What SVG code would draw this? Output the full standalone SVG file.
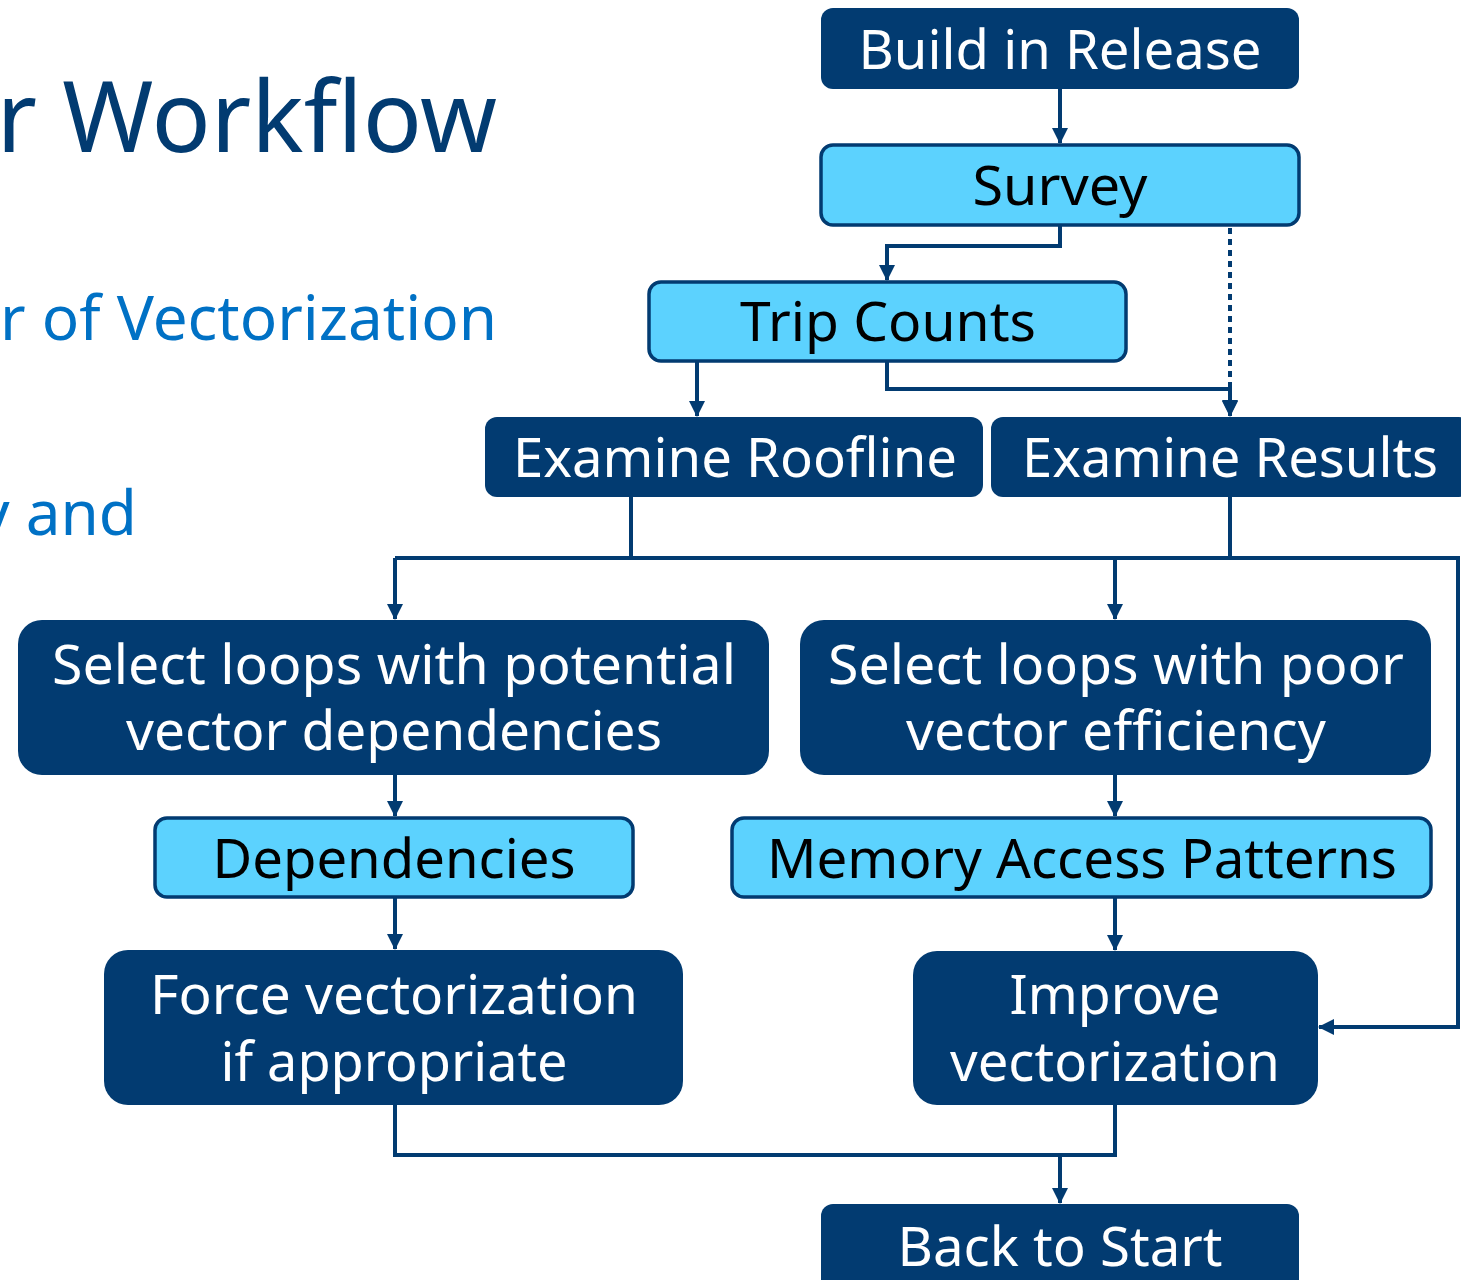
<svg xmlns="http://www.w3.org/2000/svg" width="1461" height="1280" viewBox="0 0 1461 1280">
<defs>
<style>
.dk{fill:#023b71}
.lt{fill:#5cd2fe;stroke:#023b71;stroke-width:3.5}
.t{font-family:"Noto Sans","Open Sans","Liberation Sans",sans-serif;font-size:55px;text-anchor:middle}
.w{fill:#ffffff}
.b{fill:#000000}
.c{fill:none;stroke:#023b71;stroke-width:4}
.h{font-family:"Noto Sans","Open Sans","Liberation Sans",sans-serif}
</style>
<marker id="ar" viewBox="0 0 16 16" refX="15" refY="8" markerWidth="16" markerHeight="16" markerUnits="userSpaceOnUse" orient="auto">
<path d="M0,0 L16,8 L0,16 Z" fill="#023b71"/>
</marker>
</defs>
<rect width="1461" height="1280" fill="#ffffff"/>
<g id="title">
<text class="h" x="497" y="152" font-size="98" fill="#023b71" text-anchor="end">r Workflow</text>
<text class="h" x="497" y="340" font-size="62" fill="#0071c5" text-anchor="end">r of Vectorization</text>
<text class="h" x="137" y="535" font-size="62" fill="#0071c5" text-anchor="end">y and</text>
</g>
<g id="connectors">
<path class="c" d="M1060,89 V143" marker-end="url(#ar)"/>
<path class="c" d="M1060,226 V246 H887 V280" marker-end="url(#ar)"/>
<path class="c" d="M1230,228 V415" stroke-dasharray="6,5" marker-end="url(#ar)"/>
<path class="c" d="M697,362 V416" marker-end="url(#ar)"/>
<path class="c" d="M887,362 V389 H1230 V416" marker-end="url(#ar)"/>
<path class="c" d="M631,497 V558"/>
<path class="c" d="M1230,497 V558"/>
<path class="c" d="M395,558 H1458 V1027 H1319" marker-end="url(#ar)"/>
<path class="c" d="M395,558 V619" marker-end="url(#ar)"/>
<path class="c" d="M1115,558 V619" marker-end="url(#ar)"/>
<path class="c" d="M395,775 V816" marker-end="url(#ar)"/>
<path class="c" d="M1115,775 V816" marker-end="url(#ar)"/>
<path class="c" d="M395,898 V949" marker-end="url(#ar)"/>
<path class="c" d="M1115,898 V950" marker-end="url(#ar)"/>
<path class="c" d="M395,1105 V1155 H1115 V1105"/>
<path class="c" d="M1060,1155 V1203" marker-end="url(#ar)"/>
</g>
<g id="build">
<rect class="dk" x="821" y="8" width="478" height="81" rx="12"/>
<text class="t w" x="1060" y="69" textLength="403" lengthAdjust="spacingAndGlyphs">Build in Release</text>
</g>
<g id="survey">
<rect class="lt" x="821" y="145" width="478" height="80" rx="12"/>
<text class="t b" x="1060" y="205" textLength="175" lengthAdjust="spacingAndGlyphs">Survey</text>
</g>
<g id="trip">
<rect class="lt" x="649" y="282" width="477" height="79" rx="12"/>
<text class="t b" x="888" y="341" textLength="296" lengthAdjust="spacingAndGlyphs">Trip Counts</text>
</g>
<g id="roofline">
<rect class="dk" x="485" y="417" width="498" height="80" rx="12"/>
<text class="t w" x="735" y="477" textLength="444" lengthAdjust="spacingAndGlyphs">Examine Roofline</text>
</g>
<g id="results">
<rect class="dk" x="991" y="417" width="480" height="80" rx="12"/>
<text class="t w" x="1230" y="477" textLength="416" lengthAdjust="spacingAndGlyphs">Examine Results</text>
</g>
<g id="selectDep">
<rect class="dk" x="18" y="620" width="751" height="155" rx="24"/>
<text class="t w" x="394" y="684" textLength="684" lengthAdjust="spacingAndGlyphs">Select loops with potential</text>
<text class="t w" x="394" y="750" textLength="536" lengthAdjust="spacingAndGlyphs">vector dependencies</text>
</g>
<g id="selectPoor">
<rect class="dk" x="800" y="620" width="631" height="155" rx="24"/>
<text class="t w" x="1116" y="684" textLength="576" lengthAdjust="spacingAndGlyphs">Select loops with poor</text>
<text class="t w" x="1116" y="750" textLength="420" lengthAdjust="spacingAndGlyphs">vector efficiency</text>
</g>
<g id="dependencies">
<rect class="lt" x="155" y="818" width="478" height="79" rx="12"/>
<text class="t b" x="394" y="878" textLength="363" lengthAdjust="spacingAndGlyphs">Dependencies</text>
</g>
<g id="map">
<rect class="lt" x="732" y="818" width="699" height="79" rx="12"/>
<text class="t b" x="1082" y="878" textLength="630" lengthAdjust="spacingAndGlyphs">Memory Access Patterns</text>
</g>
<g id="force">
<rect class="dk" x="104" y="950" width="579" height="155" rx="24"/>
<text class="t w" x="394" y="1014" textLength="488" lengthAdjust="spacingAndGlyphs">Force vectorization</text>
<text class="t w" x="394" y="1081" textLength="347" lengthAdjust="spacingAndGlyphs">if appropriate</text>
</g>
<g id="improve">
<rect class="dk" x="913" y="951" width="405" height="154" rx="24"/>
<text class="t w" x="1115" y="1014" textLength="211" lengthAdjust="spacingAndGlyphs">Improve</text>
<text class="t w" x="1115" y="1081" textLength="330" lengthAdjust="spacingAndGlyphs">vectorization</text>
</g>
<g id="back">
<rect class="dk" x="821" y="1204" width="478" height="90" rx="12"/>
<text class="t w" x="1060" y="1266" textLength="325" lengthAdjust="spacingAndGlyphs">Back to Start</text>
</g>
</svg>
